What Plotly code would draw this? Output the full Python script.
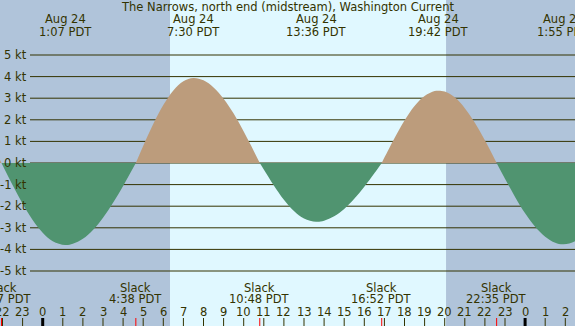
from datetime import datetime
import plotly.graph_objects as go

# ---------------- data ----------------
TITLE = "The Narrows, north end (midstream), Washington Current"
BASE = "08-24 00:00"            # x = hours after this moment (local PDT)

# maximum current events (top labels)
max_times = ["08-24 01:07", "08-24 07:30", "08-24 13:36", "08-24 19:42", "08-25 01:55"]
max_dates = ["Aug 24", "Aug 24", "Aug 24", "Aug 24", "Aug 25"]
max_clock = ["1:07 PDT", "7:30 PDT", "13:36 PDT", "19:42 PDT", "1:55 PDT"]
max_knots = [-3.8, 3.94, -2.72, 3.35, -3.76]

# slack events (bottom labels)
slack_times = ["08-23 21:57", "08-24 04:38", "08-24 10:48", "08-24 16:52", "08-24 22:35"]
slack_clock = ["21:57 PDT", "4:38 PDT", "10:48 PDT", "16:52 PDT", "22:35 PDT"]

# sunrise / sunset (background shading)
sunrise = "08-24 06:20"
sunset = "08-24 20:04"

# current speed curve (hours after midnight Aug 24, knots; + flood, - ebb)
curve_hours = [-2.5, -2.05, -1.5, -1.0, -0.5, 0.0, 0.5, 1.117, 1.5, 2.0, 2.5, 3.0, 3.5, 4.0,
               4.633, 5.0, 5.5, 6.0, 6.5, 7.0, 7.5, 8.0, 8.5, 9.0, 9.5, 10.0, 10.5,
               10.8, 11.0, 11.5, 12.0, 12.5, 13.0, 13.6, 14.0, 14.5, 15.0, 15.5, 16.0, 16.5,
               16.867, 17.0, 17.5, 18.0, 18.5, 19.0, 19.5, 19.7, 20.0, 20.5, 21.0, 21.5, 22.0,
               22.583, 23.0, 23.5, 24.0, 24.5, 25.0, 25.5, 25.917, 26.5, 27.0]
curve_knots = [0.84, 0.0, -1.02, -1.89, -2.64, -3.23, -3.62, -3.8, -3.74, -3.51, -3.10, -2.53, -1.84, -1.06,
               0.0, 0.79, 1.80, 2.68, 3.36, 3.79, 3.94, 3.83, 3.50, 2.98, 2.29, 1.46, 0.56,
               0.0, -0.30, -1.04, -1.70, -2.22, -2.57, -2.72, -2.67, -2.47, -2.13, -1.66, -1.10, -0.48,
               0.0, 0.25, 1.15, 1.97, 2.64, 3.10, 3.33, 3.35, 3.31, 3.04, 2.54, 1.86, 1.05,
               0.0, -0.73, -1.57, -2.33, -2.95, -3.41, -3.69, -3.76, -3.61, -3.24]

knot_levels = [5, 4, 3, 2, 1, 0, -1, -2, -3, -4, -5]
hour_ticks = list(range(-2, 27))

# ---------------- styling ----------------
W, H = 575, 326
PX0, PXH = 42.7, 20.1           # pixel of hour 0, pixels per hour
Y0PX, PXKT = 163.0, 21.6        # pixel of 0 kt, pixels per knot
NIGHT = "#b0c4da"
DAY = "#e0f8ff"
FLOOD = "#bc9c7c"
EBB = "#509470"
INK = "#333300"
FONT = "DejaVu Sans"
FS = 11.5

fmt = "%m-%d %H:%M"
t0 = datetime.strptime(BASE, fmt)


def hrs(s):
    return (datetime.strptime(s, fmt) - t0).total_seconds() / 3600.0


def py(p):                       # pixel row -> paper y
    return 1 - p / H


x_lo = -PX0 / PXH
x_hi = (W - PX0) / PXH
y_half = Y0PX / PXKT

fig = go.Figure()

# split the curve into flood / ebb lobes at the slack (zero) points
segments, cur = [], []
for h, v in zip(curve_hours, curve_knots):
    cur.append((h, v))
    if v == 0 and len(cur) > 1:
        segments.append(cur)
        cur = [(h, v)]
if len(cur) > 1:
    segments.append(cur)

for seg in segments:
    xs = [p[0] for p in seg]
    ys = [p[1] for p in seg]
    positive = sum(ys) > 0
    fig.add_trace(go.Scatter(
        x=xs, y=ys, mode="lines", fill="tozeroy",
        fillcolor=FLOOD if positive else EBB,
        line=dict(width=0, shape="spline", color=FLOOD if positive else EBB),
        hoverinfo="skip", showlegend=False))

shapes = []
# night shading
shapes.append(dict(type="rect", xref="x", yref="paper", x0=x_lo - 1, x1=hrs(sunrise),
                   y0=0, y1=1, fillcolor=NIGHT, line_width=0, layer="below"))
shapes.append(dict(type="rect", xref="x", yref="paper", x0=hrs(sunset), x1=x_hi + 1,
                   y0=0, y1=1, fillcolor=NIGHT, line_width=0, layer="below"))
# knot grid lines
for k in knot_levels:
    shapes.append(dict(type="line", xref="paper", yref="y", x0=30 / W, x1=1, y0=k, y1=k,
                       line=dict(color=INK, width=1), layer="below"))
# hour ticks
for h in hour_ticks:
    midnight = h % 24 == 0
    shapes.append(dict(type="line", xref="x", yref="paper", x0=h, x1=h,
                       y0=0, y1=8 / H, line=dict(color="#000000" if midnight else INK,
                                                 width=3 if midnight else 1)))
# slack ticks
for s in slack_times:
    shapes.append(dict(type="line", xref="x", yref="paper", x0=hrs(s), x1=hrs(s),
                       y0=0, y1=8 / H, line=dict(color="#ff0000", width=1)))

ann = []
ann.append(dict(text=TITLE, xref="paper", yref="paper", x=0.5, y=py(7.0),
                xanchor="center", yanchor="middle", showarrow=False))
for k in knot_levels:
    ann.append(dict(text=f"{k} kt", xref="paper", yref="y", x=28.5 / W, y=k,
                    xanchor="right", yanchor="middle", showarrow=False))
for t, d, c in zip(max_times, max_dates, max_clock):
    ann.append(dict(text=d, xref="x", yref="paper", x=hrs(t), y=py(19.0),
                    xanchor="center", yanchor="middle", showarrow=False))
    ann.append(dict(text=c, xref="x", yref="paper", x=hrs(t), y=py(31.6),
                    xanchor="center", yanchor="middle", showarrow=False))
for t, c in zip(slack_times, slack_clock):
    ann.append(dict(text="Slack", xref="x", yref="paper", x=hrs(t), y=py(287.5),
                    xanchor="center", yanchor="middle", showarrow=False))
    ann.append(dict(text=c, xref="x", yref="paper", x=hrs(t), y=py(299.0),
                    xanchor="center", yanchor="middle", showarrow=False))
for h in hour_ticks:
    ann.append(dict(text=str(h % 24), xref="x", yref="paper", x=h, y=py(312.0),
                    xanchor="center", yanchor="middle", showarrow=False))

fig.update_layout(
    width=W, height=H, margin=dict(l=0, r=0, t=0, b=0, pad=0),
    paper_bgcolor=DAY, plot_bgcolor=DAY,
    font=dict(family=FONT, size=FS, color=INK),
    xaxis=dict(range=[x_lo, x_hi], visible=False, fixedrange=True),
    yaxis=dict(range=[-y_half, (H - Y0PX) / PXKT], visible=False, fixedrange=True),
    shapes=shapes, annotations=ann, showlegend=False,
)

fig.write_html(
    "out.html",
    config={"displayModeBar": False, "staticPlot": True},
    post_script="document.body.style.margin='0';document.body.style.overflow='hidden';",
)
